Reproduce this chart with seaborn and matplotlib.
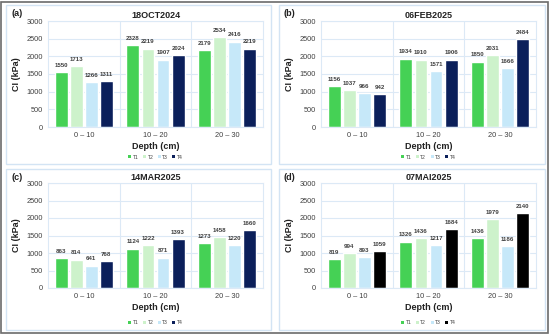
import matplotlib
matplotlib.use("Agg")
import matplotlib.pyplot as plt
import seaborn as sns
import pandas as pd
from matplotlib.patches import Rectangle

depths = ["0 – 10", "10 – 20", "20 – 30"]
treatments = ["T1", "T2", "T3", "T4"]
titles = ["18OCT2024", "06FEB2025", "14MAR2025", "07MAI2025"]
letters = ["(a)", "(b)", "(c)", "(d)"]

# values per panel: [depth][treatment]
vals_a = [[1550, 1713, 1266, 1311], [2328, 2219, 1907, 2024], [2179, 2534, 2416, 2219]]
vals_b = [[1156, 1037, 966, 942], [1934, 1910, 1571, 1906], [1850, 2031, 1666, 2484]]
vals_c = [[863, 814, 641, 768], [1124, 1222, 871, 1393], [1273, 1458, 1220, 1660]]
vals_d = [[819, 994, 893, 1059], [1326, 1436, 1217, 1684], [1436, 1979, 1186, 2140]]
all_vals = [vals_a, vals_b, vals_c, vals_d]

yticks = [0, 500, 1000, 1500, 2000, 2500, 3000]

pal_navy = ["#45d155", "#cdf2cb", "#c6e8f9", "#0b1f5a"]
pal_black = ["#45d155", "#cdf2cb", "#c6e8f9", "#000000"]
palettes = [pal_navy, pal_navy, pal_navy, pal_black]

sns.set_theme(style="white")
plt.rcParams['font.family'] = ['Liberation Sans', 'DejaVu Sans']

W, H = 550, 335
fig = plt.figure(figsize=(W / 100, H / 100), dpi=100)
fig.patch.set_facecolor("white")

def fx(px):
    return px / W

def fy(py):
    return 1 - py / H

# outer border
fig.add_artist(Rectangle((fx(1), fy(333)), fx(547), (332 - 1) / H, transform=fig.transFigure,
                         fill=False, edgecolor="#6b6b6b", linewidth=1.2))

# panel boxes in px: (x0, y0, x1, y1)
boxes = [(6, 5, 271, 164), (279, 5, 545, 164), (6, 169, 271, 330), (279, 169, 545, 330)]
# plot areas in px: (x0, ytop, x1, ybottom)
areas = [(48, 21, 263, 127), (321, 21, 536, 127), (48, 183, 263, 288), (321, 183, 536, 288)]

for i in range(4):
    bx0, by0, bx1, by1 = boxes[i]
    fig.add_artist(Rectangle((fx(bx0), fy(by1)), fx(bx1 - bx0), (by1 - by0) / H,
                             transform=fig.transFigure, fill=False,
                             edgecolor="#d3e4f4", linewidth=1.0))
    ax0, ay0, ax1, ay1 = areas[i]
    ax = fig.add_axes([fx(ax0), fy(ay1), fx(ax1 - ax0), (ay1 - ay0) / H])
    rows = []
    for di, d in enumerate(depths):
        for ti, t in enumerate(treatments):
            rows.append({"Depth": d, "Treatment": t, "CI": all_vals[i][di][ti]})
    df = pd.DataFrame(rows)
    sns.barplot(data=df, x="Depth", y="CI", hue="Treatment", palette=palettes[i],
                width=0.84, gap=0.14, ax=ax, legend=False, saturation=1)
    for cont in ax.containers:
        ax.bar_label(cont, fmt="%d", padding=3, fontsize=4.4, fontweight="bold", color="#404040")
    ax.set_ylim(0, 3000)
    ax.set_xlim(-0.5, 2.5)
    ax.set_yticks(yticks)
    ax.set_xticks([0, 1, 2])
    ax.set_xticklabels(depths)
    ax.set_xticks([0.5, 1.5], minor=True)
    ax.grid(axis="y", which="major", color="#dce9f6", linewidth=0.8)
    ax.grid(axis="x", which="minor", color="#dce9f6", linewidth=0.8)
    ax.set_axisbelow(True)
    for s in ax.spines.values():
        s.set_color("#dce9f6")
        s.set_linewidth(0.8)
    ax.tick_params(axis="both", which="both", length=0, labelsize=5.3, colors="#404040", pad=3.5)
    ax.set_xlabel("Depth (cm)", fontsize=6.5, fontweight="bold", color="#222222", labelpad=2.5)
    ax.set_ylabel("CI (kPa)", fontsize=6.5, fontweight="bold", color="#222222", labelpad=4)
    ax.set_title(titles[i], fontsize=6.5, fontweight="bold", color="#222222", pad=2.5)
    # panel letter
    fig.text(fx(bx0 + 5), fy(by0 + 8), letters[i], fontsize=6.5, fontweight="bold",
             color="#222222", va="center", ha="left")
    # legend
    handles = [Rectangle((0, 0), 1, 1, facecolor=c, edgecolor="none") for c in palettes[i]]
    cx = (ax0 + ax1) / 2
    fig.legend(handles, treatments, loc="center", bbox_to_anchor=(fx(cx), fy(by1 - 7)),
               ncol=4, frameon=False, fontsize=3.6, handlelength=0.6, handleheight=0.6,
               handletextpad=0.3, columnspacing=0.9, labelcolor="#404040")

fig.savefig("out.png", dpi=100, facecolor="white")
